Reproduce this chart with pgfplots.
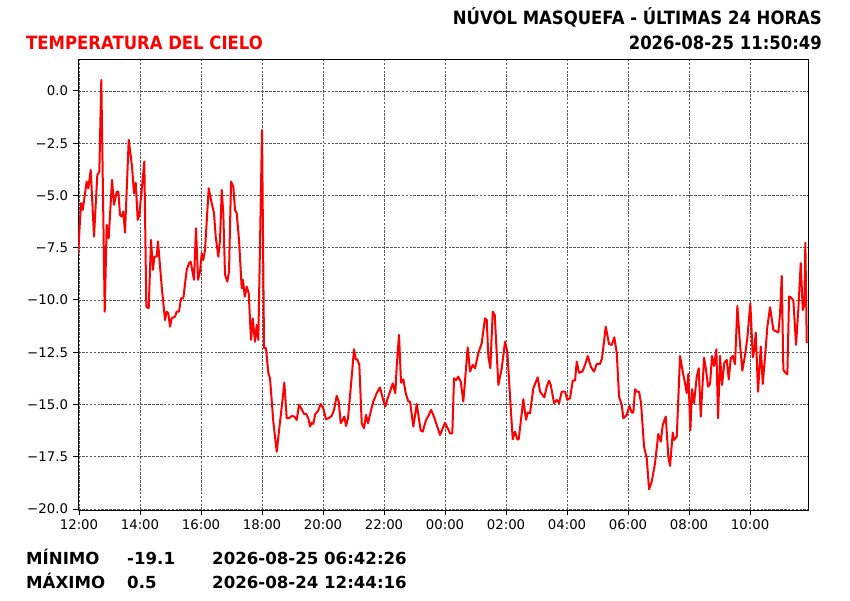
\documentclass[border=0pt]{standalone}
\usepackage{pgfplots}
\pgfplotsset{compat=1.18}
\usepackage{fontspec}
\setmainfont{DejaVu Sans}
\newfontfamily\condfont{DejaVu Sans}[FakeStretch=0.9]
\definecolor{mplred}{RGB}{255,0,0}
\pgfplotstableread{
h t
-0.03 -7.77
0.066 -5.37
0.121 -5.69
0.252 -4.34
0.305 -4.66
0.384 -3.78
0.492 -6.97
0.600 -4.02
0.666 -3.86
0.731 0.53
0.843 -10.56
0.908 -6.41
0.974 -7.05
1.082 -4.26
1.148 -5.45
1.236 -4.82
1.289 -4.82
1.344 -5.93
1.400 -6.01
1.452 -5.77
1.508 -6.78
1.630 -2.34
1.738 -3.62
1.803 -4.90
1.859 -4.39
1.925 -6.17
1.977 -5.93
2.066 -4.58
2.141 -3.38
2.207 -10.32
2.285 -10.40
2.361 -7.13
2.426 -8.56
2.469 -7.93
2.548 -7.93
2.590 -7.20
2.711 -9.36
2.820 -10.96
2.875 -10.56
2.928 -10.64
2.984 -11.28
3.039 -10.88
3.148 -10.80
3.203 -10.56
3.279 -10.56
3.344 -9.92
3.420 -9.92
3.531 -8.56
3.607 -8.24
3.662 -8.17
3.770 -9.04
3.836 -6.57
3.902 -9.04
3.967 -8.64
4.023 -7.77
4.075 -8.09
4.131 -7.61
4.252 -4.66
4.351 -5.37
4.426 -5.85
4.482 -6.97
4.567 -7.93
4.623 -7.13
4.679 -4.74
4.731 -5.85
4.787 -8.80
4.862 -9.12
4.918 -8.64
4.984 -4.34
5.059 -4.58
5.115 -5.69
5.170 -5.85
5.246 -7.13
5.334 -9.44
5.377 -9.04
5.433 -9.84
5.498 -9.36
5.564 -9.68
5.639 -11.91
5.695 -10.88
5.770 -12.00
5.826 -11.20
5.879 -11.91
6.000 -1.87
6.066 -12.31
6.131 -12.31
6.207 -13.50
6.262 -13.75
6.370 -15.82
6.482 -17.26
6.567 -16.14
6.666 -14.86
6.731 -13.96
6.810 -15.66
6.885 -15.66
6.974 -15.55
7.059 -15.58
7.138 -15.74
7.213 -15.02
7.302 -15.23
7.377 -15.45
7.443 -15.45
7.518 -15.66
7.574 -16.06
7.630 -15.87
7.682 -15.93
7.748 -15.45
7.826 -15.34
7.925 -14.98
8.010 -15.18
8.098 -15.71
8.174 -15.66
8.285 -15.55
8.361 -15.26
8.449 -14.59
8.515 -14.86
8.580 -15.90
8.646 -15.74
8.698 -15.58
8.754 -16.03
8.820 -15.66
8.941 -13.67
9.016 -12.36
9.072 -12.84
9.125 -12.84
9.190 -13.11
9.269 -15.90
9.344 -16.14
9.410 -15.50
9.475 -15.90
9.564 -15.34
9.649 -14.86
9.761 -14.46
9.869 -14.18
9.957 -14.70
10.043 -15.10
10.121 -14.70
10.197 -14.39
10.285 -13.99
10.370 -14.46
10.416 -13.16
10.492 -11.67
10.557 -13.96
10.633 -13.80
10.711 -14.46
10.797 -14.86
10.852 -14.86
10.961 -16.06
11.072 -14.98
11.203 -16.25
11.269 -16.30
11.377 -15.74
11.452 -15.55
11.541 -15.26
11.616 -15.50
11.728 -15.98
11.836 -16.46
12.000 -15.87
12.164 -16.38
12.239 -16.38
12.295 -13.75
12.361 -13.83
12.436 -13.67
12.515 -13.91
12.600 -14.86
12.679 -13.43
12.744 -12.27
12.820 -13.43
12.908 -13.11
12.984 -13.27
13.092 -12.55
13.203 -12.07
13.311 -10.88
13.367 -10.96
13.420 -12.71
13.485 -13.27
13.564 -10.56
13.630 -10.72
13.748 -14.07
13.859 -13.27
13.967 -12.00
14.043 -12.47
14.131 -14.63
14.220 -16.67
14.295 -16.30
14.370 -16.67
14.416 -16.67
14.567 -14.75
14.656 -15.74
14.711 -15.39
14.787 -15.42
14.895 -14.23
15.039 -13.70
15.115 -14.39
15.256 -14.66
15.334 -14.15
15.410 -13.86
15.466 -14.07
15.574 -14.94
15.662 -14.78
15.738 -14.94
15.826 -14.39
15.934 -14.39
16.010 -14.78
16.098 -14.70
16.187 -13.86
16.262 -13.86
16.318 -12.95
16.393 -13.48
16.502 -13.43
16.590 -13.11
16.679 -12.68
16.787 -13.22
16.885 -13.43
16.974 -13.06
17.082 -13.06
17.148 -12.79
17.269 -11.28
17.377 -12.11
17.466 -12.15
17.551 -11.79
17.630 -12.55
17.705 -14.63
17.793 -15.02
17.846 -15.66
17.957 -15.50
18.043 -15.07
18.121 -15.39
18.174 -15.39
18.230 -14.27
18.285 -14.39
18.361 -14.39
18.426 -14.94
18.525 -17.02
18.613 -17.58
18.689 -19.06
18.777 -18.69
18.885 -17.81
18.993 -16.41
19.072 -16.78
19.138 -15.98
19.236 -15.58
19.321 -17.50
19.377 -17.94
19.466 -16.35
19.508 -16.70
19.597 -16.54
19.705 -12.68
19.793 -13.43
19.869 -13.99
19.925 -14.46
19.977 -13.54
20.043 -16.25
20.098 -14.27
20.164 -14.94
20.252 -13.67
20.318 -13.27
20.384 -15.58
20.492 -12.76
20.557 -13.35
20.623 -14.15
20.689 -14.02
20.754 -12.68
20.820 -13.16
20.895 -12.36
20.951 -15.66
21.016 -12.68
21.082 -14.07
21.157 -13.00
21.236 -12.87
21.302 -13.80
21.367 -12.79
21.433 -12.68
21.508 -13.08
21.584 -10.29
21.672 -12.15
21.748 -13.38
21.836 -12.63
21.911 -11.83
22.010 -10.16
22.089 -12.74
22.131 -12.47
22.187 -11.56
22.262 -14.39
22.351 -12.23
22.416 -14.02
22.492 -12.71
22.567 -11.28
22.656 -10.35
22.764 -11.44
22.875 -11.52
22.928 -11.56
22.984 -10.64
23.039 -8.85
23.092 -13.35
23.157 -13.48
23.223 -13.56
23.279 -9.84
23.334 -9.87
23.420 -10.03
23.508 -12.15
23.584 -10.40
23.662 -8.24
23.728 -10.48
23.780 -10.24
23.813 -7.26
23.859 -12.07
}\temps
\begin{document}
\begin{tikzpicture}[x=1pt,y=1pt]
\useasboundingbox (0,0) rectangle (850,600);
\begin{axis}[
  at={(78pt,90pt)}, anchor=south west,
  scale only axis, width=730pt, height=450pt,
  xmin=-0.033, xmax=23.9, ymin=-20.05, ymax=1.48,
  xtick={0,2,4,6,8,10,12,14,16,18,20,22},
  xticklabels={12:00,14:00,16:00,18:00,20:00,22:00,00:00,02:00,04:00,06:00,08:00,10:00},
  ytick={-20,-17.5,-15,-12.5,-10,-7.5,-5,-2.5,0},
  yticklabels={−20.0,−17.5,−15.0,−12.5,−10.0,−7.5,−5.0,−2.5,0.0},
  tick align=outside, major tick length=4.9pt,
  tick style={black, line width=0.9pt},
  axis line style={black, line width=1pt},
  xtick pos=bottom, ytick pos=left,
  grid=major,
  major grid style={black!65, line width=0.55pt, dash pattern=on 2.6pt off 1.3pt},
  ticklabel style={font=\fontsize{13.3}{16}\selectfont, inner sep=0pt},
  yticklabel style={anchor=east, xshift=-4.9pt},
  xticklabel style={anchor=north, yshift=-4.9pt},
]
\addplot[mplred, line width=2pt, line join=round] table[x=h, y=t] {\temps};
\end{axis}
\node[anchor=base east, inner sep=0pt, font=\condfont\bfseries\fontsize{18.3}{22}\selectfont] at (822,575) {NÚVOL MASQUEFA - ÚLTIMAS 24 HORAS};
\node[anchor=base east, inner sep=0pt, font=\condfont\bfseries\fontsize{18.3}{22}\selectfont] at (822,550.5) {2026-08-25 11:50:49};
\node[anchor=base west, inner sep=0pt, text=mplred, font=\condfont\bfseries\fontsize{18.3}{22}\selectfont] at (26,550.5) {TEMPERATURA DEL CIELO};
\begin{scope}[every node/.style={anchor=base west, inner sep=0pt, font=\bfseries\fontsize{16.6}{20}\selectfont}]
\node at (26,36) {MÍNIMO};
\node at (127,36) {-19.1};
\node at (212,36) {2026-08-25 06:42:26};
\node at (26,12) {MÁXIMO};
\node at (127,12) {0.5};
\node at (212,12) {2026-08-24 12:44:16};
\end{scope}
\end{tikzpicture}
\end{document}
